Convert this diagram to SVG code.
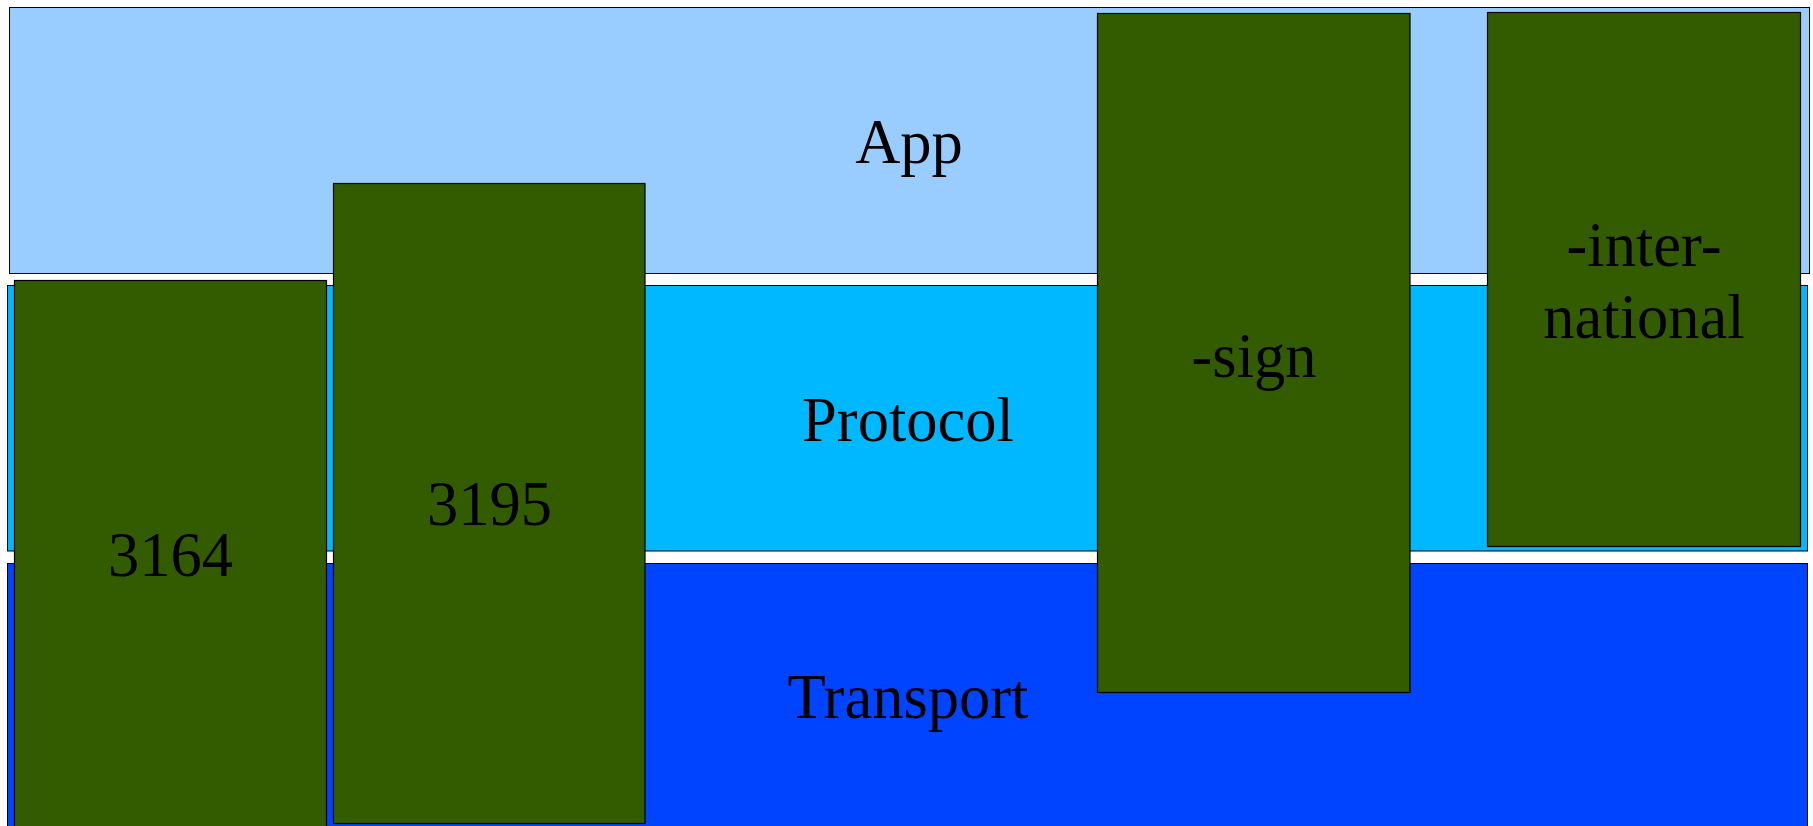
<svg xmlns="http://www.w3.org/2000/svg" width="1813" height="826" viewBox="0 0 1813 826">
<style>
.layer{stroke:#000;stroke-width:1}
.box{fill:#335c00;stroke:#000;stroke-width:1.2}
.lbl{font-family:"Liberation Serif","Times New Roman",serif;font-size:62.5px;fill:#000;text-anchor:middle}
</style>
<rect width="1813" height="826" fill="#fff"/>
<g id="layer-app">
<rect class="layer" x="9.5" y="7.5" width="1800" height="266" fill="#99ccff"/>
<text class="lbl" x="909" y="163">App</text>
</g>
<g id="layer-protocol">
<rect class="layer" x="7.5" y="285.5" width="1800" height="265.5" fill="#00b8ff"/>
<text class="lbl" x="908" y="441">Protocol</text>
</g>
<g id="layer-transport">
<rect class="layer" x="7.5" y="563.5" width="1800" height="280" fill="#0044ff"/>
<text class="lbl" x="908" y="718">Transport</text>
</g>
<g id="connectors"></g>
<g id="box-3164">
<rect class="box" x="14.5" y="280.5" width="312" height="560"/>
<text class="lbl" x="170.5" y="576">3164</text>
</g>
<g id="box-3195">
<rect class="box" x="333.5" y="183.5" width="311.5" height="640"/>
<text class="lbl" x="489.5" y="525">3195</text>
</g>
<g id="box-sign">
<rect class="box" x="1097.5" y="13.5" width="312.5" height="679"/>
<text class="lbl" x="1254" y="377">-sign</text>
</g>
<g id="box-international">
<rect class="box" x="1487.5" y="12.5" width="313" height="534"/>
<text class="lbl" x="1644" y="266">-inter-</text>
<text class="lbl" x="1644" y="338">national</text>
</g>
</svg>
